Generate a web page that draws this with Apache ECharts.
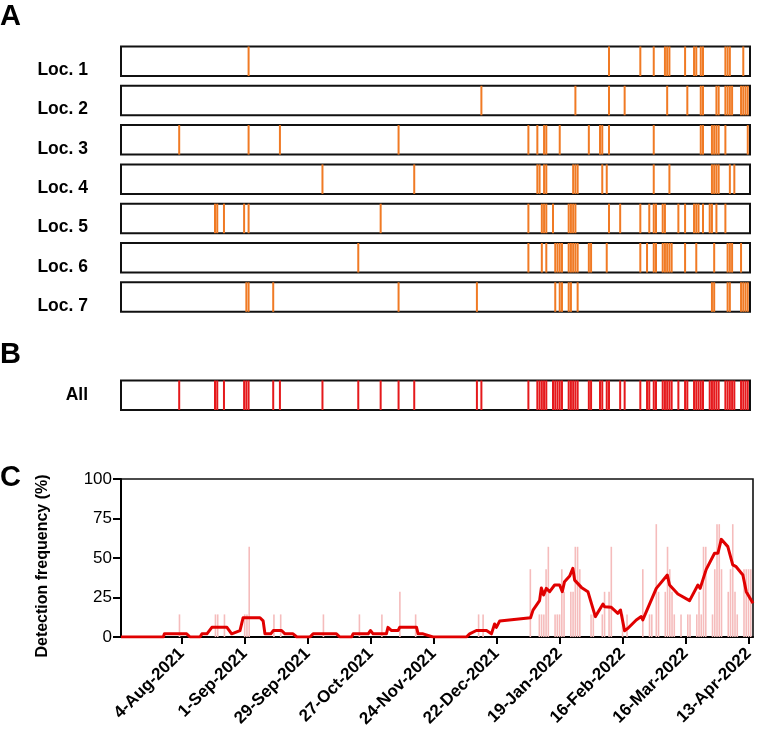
<!DOCTYPE html>
<html><head><meta charset="utf-8">
<script src="https://cdn.jsdelivr.net/npm/echarts@6/dist/echarts.min.js"></script>
<style>html,body{margin:0;padding:0;background:#fff}#c{width:759px;height:736px}</style>
</head><body><div id="c"></div>
<script>
// All days are counted from START_DATE (day 0 = 8-Jul-2021)
const START_DATE = '2021-07-08';
const AXIS_MAX_DAY = 281;

const LOC_NAMES = ['Loc. 1', 'Loc. 2', 'Loc. 3', 'Loc. 4', 'Loc. 5', 'Loc. 6', 'Loc. 7'];
const LOC1 = [57, 218, 232, 238, 243, 244, 245, 252, 256, 257, 259, 260, 270, 271, 272, 278];
const LOC2 = [161, 203, 218, 225, 244, 253, 259, 260, 266, 267, 270, 271, 272, 273, 277, 278, 279, 280];
const LOC3 = [26, 57, 71, 124, 182, 186, 189, 190, 196, 209, 214, 215, 218, 238, 259, 260, 264, 265, 266, 267, 270, 280];
const LOC4 = [90, 131, 186, 187, 189, 190, 202, 203, 204, 215, 217, 238, 245, 264, 265, 266, 267, 272, 274];
const LOC5 = [42, 43, 46, 55, 57, 116, 182, 188, 189, 190, 193, 200, 201, 202, 203, 218, 223, 232, 236, 238, 239, 242, 243, 249, 252, 256, 257, 258, 260, 263, 264, 266, 270];
const LOC6 = [106, 182, 188, 190, 194, 195, 196, 197, 200, 201, 202, 203, 204, 209, 210, 217, 232, 235, 238, 239, 242, 243, 244, 245, 246, 252, 257, 265, 271, 272, 273, 277];
const LOC7 = [56, 57, 68, 124, 159, 194, 196, 197, 200, 201, 204, 264, 265, 271, 272, 277, 278, 279, 280];

const ALL_NAME = 'All';
const ALL_EVENTS = [26, 42, 43, 46, 55, 56, 57, 68, 71, 90, 106, 116, 124, 131, 159, 161, 182, 186, 187, 188, 189, 190, 193, 194, 195, 196, 197, 200, 201, 202, 203, 204, 209, 210, 214, 215, 217, 218, 223, 225, 232, 235, 236, 238, 239, 242, 243, 244, 245, 246, 249, 252, 253, 256, 257, 258, 259, 260, 263, 264, 265, 266, 267, 270, 271, 272, 273, 274, 277, 278, 279, 280];

const FREQ_BAR_DAYS = [26, 42, 43, 46, 55, 56, 57, 68, 71, 90, 106, 116, 124, 131, 159, 161,
  182, 186, 187, 188, 189, 190, 193, 194, 195, 196, 197, 200, 201, 202, 203, 204, 209, 210, 214, 215, 217, 218, 223, 225,
  232, 235, 236, 238, 239, 242, 243, 244, 245, 246, 249, 252, 253, 256, 257, 258, 259, 260, 263, 264, 265, 266, 267,
  270, 271, 272, 273, 274, 277, 278, 279, 280];
const FREQ_BAR_VALUES = [14.3, 14.3, 14.3, 14.3, 14.3, 14.3, 57.1, 14.3, 14.3, 14.3, 14.3, 14.3, 28.6, 14.3, 14.3, 14.3,
  42.9, 14.3, 14.3, 14.3, 42.9, 57.1, 14.3, 14.3, 14.3, 42.9, 28.6, 28.6, 28.6, 57.1, 57.1, 42.9, 14.3, 14.3, 14.3, 28.6, 28.6, 57.1, 14.3, 14.3,
  42.9, 14.3, 14.3, 71.4, 28.6, 28.6, 57.1, 42.9, 28.6, 14.3, 14.3, 14.3, 14.3, 14.3, 28.6, 14.3, 57.1, 57.1, 14.3, 42.9, 71.4, 71.4, 42.9,
  28.6, 42.9, 71.4, 28.6, 14.3, 42.9, 42.9, 42.9, 42.9];

const FREQ_LINE_DAYS = [0, 18.8, 19.3, 29.2, 30.7, 35.1, 36, 38.2, 40.4, 47.1, 49.2, 49.9, 52.9, 54.3, 61.8, 63.2, 64, 66.6, 67.7, 71.4,
  72.9, 76.5, 78.2, 84, 85.4, 95.8, 97.3, 102.5, 103.2, 109.9, 110.9, 112.1, 118, 118.7, 120.3, 123.2, 123.9, 131.4, 132.1, 134.3,
  138.7, 153.6, 155, 158, 162.5, 164.7, 166.1, 166.9, 168.4, 182.1, 183.2, 186.1, 186.9, 187.9, 189.1, 190.6, 192.8, 195, 196.2,
  197.2, 199.5, 200.9, 201.7, 204.7, 207.6, 210.9, 214.3, 215, 218, 220.9, 222.1, 223.9, 225.4, 229.1, 231.3, 232, 238, 242.9,
  243.9, 247.6, 252.8, 256.5, 257.5, 260.2, 263.9, 265.4, 266.9, 269.8, 272, 273.5, 276.5, 278, 281];
const FREQ_LINE_VALUES = [0, 0, 2.0, 2.0, 0, 0, 2.0, 2.0, 6.1, 6.1, 2.0, 2.0, 4.1, 12.2, 12.2, 10.2, 2.0, 2.0, 4.1, 4.1,
  2.0, 2.0, 0, 0, 2.0, 2.0, 0, 0, 2.0, 2.0, 4.1, 2.0, 2.0, 6.1, 4.1, 4.1, 6.1, 6.1, 2.0, 2.0,
  0, 0, 2.0, 4.1, 4.1, 2.0, 8.2, 6.1, 10.2, 12.2, 17, 23, 31, 26.6, 30.8, 28.7, 32.9, 32.9, 28.7,
  35, 38.6, 43.5, 36, 31.4, 28.7, 12.9, 20.9, 19.2, 18.8, 15, 17.1, 4, 5.5, 10.8, 12.9, 10.8, 30.8, 39.2,
  32.9, 27.2, 23, 32.9, 30.8, 42.8, 53, 53, 61.8, 57.2, 45.6, 44.5, 39.2, 28.7, 21.3];

const TICK_DAYS = [27, 55, 83, 111, 139, 167, 195, 223, 251, 279];
const TICK_LABELS = ['4-Aug-2021', '1-Sep-2021', '29-Sep-2021', '27-Oct-2021', '24-Nov-2021', '22-Dec-2021',
  '19-Jan-2022', '16-Feb-2022', '16-Mar-2022', '13-Apr-2022'];
const Y_NAME = 'Detection frequency (%)';
const PANEL_LETTERS = ['A', 'B', 'C'];

const FONT = 'Liberation Sans, Arial, Helvetica, sans-serif';
const ORANGE = '#F07A24';
const RED = '#E5191C';
const LINE_RED = '#E00000';
const PINK = '#F5BCBC';

const LOCS = [LOC1, LOC2, LOC3, LOC4, LOC5, LOC6, LOC7];

const grids = [], xAxes = [], yAxes = [], series = [];

function stripAxes(idx, name, top, vAlign) {
  grids.push({ left: 121, right: 9, top: top, height: 29.5, show: true, borderColor: '#111', borderWidth: 2, backgroundColor: 'transparent' });
  xAxes.push({ gridIndex: idx, type: 'value', min: 0, max: AXIS_MAX_DAY, show: false });
  yAxes.push({
    gridIndex: idx, type: 'value', min: 0, max: 1,
    name: name, nameLocation: 'middle', nameRotate: 0, nameGap: 33,
    nameTextStyle: { fontFamily: FONT, fontSize: 17.5, fontWeight: 'bold', color: '#000', align: 'right', verticalAlign: vAlign },
    axisLine: { show: false }, axisTick: { show: false }, axisLabel: { show: false }, splitLine: { show: false }
  });
}

LOCS.forEach((arr, i) => {
  stripAxes(i, LOC_NAMES[i], 46.5 + 39.3 * i, 'top');
  series.push({
    type: 'bar', xAxisIndex: i, yAxisIndex: i, barWidth: 2, silent: true,
    itemStyle: { color: ORANGE }, data: arr.map(d => [d, 1])
  });
});

stripAxes(7, ALL_NAME, 380.5, 'middle');
series.push({
  type: 'bar', xAxisIndex: 7, yAxisIndex: 7, barWidth: 2, silent: true,
  itemStyle: { color: RED }, data: ALL_EVENTS.map(d => [d, 1])
});

// Panel C
grids.push({ left: 121, right: 6, top: 479, height: 158, show: true, borderColor: '#111', borderWidth: 1.6, backgroundColor: 'transparent' });
xAxes.push({
  gridIndex: 8, type: 'value', min: 0, max: AXIS_MAX_DAY,
  axisLine: { show: true, lineStyle: { color: '#000', width: 2 } },
  axisTick: { show: true, customValues: TICK_DAYS, length: 7, lineStyle: { color: '#000', width: 2 } },
  axisLabel: {
    customValues: TICK_DAYS, rotate: 45, margin: 14,
    fontFamily: FONT, fontSize: 17, fontWeight: 'bold', color: '#000',
    formatter: v => { const k = TICK_DAYS.indexOf(Math.round(v)); return k >= 0 ? TICK_LABELS[k] : ''; }
  },
  splitLine: { show: false }
});
yAxes.push({
  gridIndex: 8, type: 'value', min: 0, max: 100, interval: 25,
  name: Y_NAME, nameLocation: 'middle', nameGap: 70,
  nameTextStyle: { fontFamily: FONT, fontSize: 16, fontWeight: 'bold', color: '#000', padding: [0, 16, 0, 0] },
  axisLine: { show: true, lineStyle: { color: '#000', width: 2 } },
  axisTick: { show: true, length: 8, lineStyle: { color: '#000', width: 2 } },
  axisLabel: { fontFamily: FONT, fontSize: 17, color: '#000', margin: 9 },
  splitLine: { show: false }
});
series.push({
  type: 'bar', xAxisIndex: 8, yAxisIndex: 8, barWidth: 1.6, silent: true,
  itemStyle: { color: PINK }, data: FREQ_BAR_DAYS.map((d, k) => [d, FREQ_BAR_VALUES[k]])
});
series.push({
  type: 'line', xAxisIndex: 8, yAxisIndex: 8, symbol: 'none', silent: true, z: 5,
  lineStyle: { color: LINE_RED, width: 3, join: 'round' },
  data: FREQ_LINE_DAYS.map((d, k) => [d, FREQ_LINE_VALUES[k]])
});

const chart = echarts.init(document.getElementById('c'), null, { renderer: 'canvas' });
chart.setOption({
  animation: false,
  backgroundColor: '#fff',
  grid: grids, xAxis: xAxes, yAxis: yAxes, series: series,
  graphic: [
    { type: 'text', left: 0, top: 2, style: { text: PANEL_LETTERS[0], font: 'bold 29px ' + FONT, fill: '#000' } },
    { type: 'text', left: 0, top: 340, style: { text: PANEL_LETTERS[1], font: 'bold 29px ' + FONT, fill: '#000' } },
    { type: 'text', left: 0, top: 463, style: { text: PANEL_LETTERS[2], font: 'bold 29px ' + FONT, fill: '#000' } }
  ]
});
</script>
</body></html>
